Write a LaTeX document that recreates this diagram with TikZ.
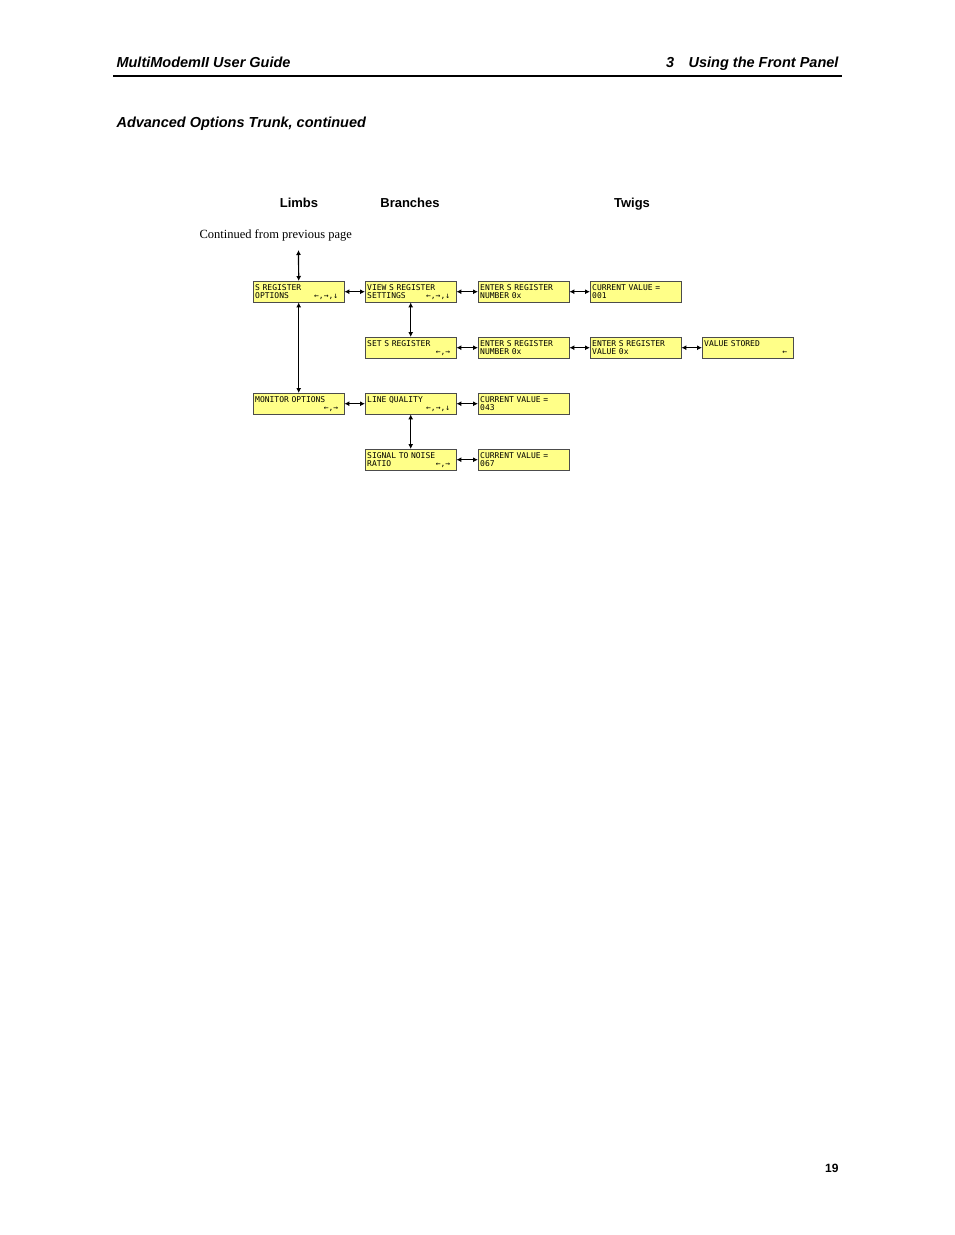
\documentclass[tikz,border=0pt]{standalone}
\usepackage{fontspec}
\setmainfont{Liberation Serif}
\setsansfont{Liberation Sans}
\newfontfamily\lcd{DejaVu Sans Mono}
\usetikzlibrary{arrows.meta}
\definecolor{lcdy}{HTML}{FFFF88}
\newcommand{\lrow}[2]{\makebox[86pt][l]{#1\hfill#2\hspace*{3pt}}}
\begin{document}
\begin{tikzpicture}[x=1pt,y=-1pt,
 lcdbox/.style={draw=black!70,fill=lcdy,anchor=north west,minimum width=91pt,minimum height=21pt,inner sep=1.5pt,align=left,font=\lcd\fontsize{8}{8}\selectfont,text width=87pt},
 dar/.style={{Latex[length=5pt,width=5pt]}-{Latex[length=5pt,width=5pt]},line width=1.2pt}]
\useasboundingbox (0,0) rectangle (954,1235);
\node[anchor=base west,font=\sffamily\bfseries\itshape\fontsize{14.5}{16}\selectfont] (h1) at (113,67) {MultiModemII User Guide};
\node[anchor=base east,font=\sffamily\bfseries\itshape\fontsize{14.5}{16}\selectfont] (h2) at (842,67) {3\quad Using the Front Panel};
\draw[line width=1.8pt] (113,76) -- (842,76);
\node[anchor=base west,font=\sffamily\bfseries\itshape\fontsize{14.5}{16}\selectfont] (t) at (113,127) {Advanced Options Trunk, continued};
\node[anchor=base,font=\sffamily\bfseries\fontsize{13}{15}\selectfont] (l) at (299,207) {Limbs};
\node[anchor=base,font=\sffamily\bfseries\fontsize{13}{15}\selectfont] (b) at (410,207) {Branches};
\node[anchor=base,font=\sffamily\bfseries\fontsize{13}{15}\selectfont] (tw) at (632,207) {Twigs};
\node[anchor=base west,font=\fontsize{12.5}{14}\selectfont] (c) at (196,238) {Continued from previous page};
\node[anchor=base east,font=\sffamily\bfseries\fontsize{12}{14}\selectfont] (p) at (842,1172) {19};

\node[lcdbox] (sr) at (253,281) {S REGISTER\\\lrow{OPTIONS}{←,→,↓}};
\node[lcdbox] (vs) at (365,281) {VIEW S REGISTER\\\lrow{SETTINGS}{←,→,↓}};
\node[lcdbox] (en1) at (478,281) {ENTER S REGISTER\\NUMBER 0x};
\node[lcdbox] (cv1) at (590,281) {CURRENT VALUE =\\001};
\node[lcdbox] (ss) at (365,337) {SET S REGISTER\\\lrow{}{←,→}};
\node[lcdbox] (en2) at (478,337) {ENTER S REGISTER\\NUMBER 0x};
\node[lcdbox] (ev) at (590,337) {ENTER S REGISTER\\VALUE 0x};
\node[lcdbox] (vst) at (702,337) {VALUE STORED\\\lrow{}{←}};
\node[lcdbox] (mo) at (253,393) {MONITOR OPTIONS\\\lrow{}{←,→}};
\node[lcdbox] (lq) at (365,393) {LINE QUALITY\\\lrow{}{←,→,↓}};
\node[lcdbox] (cv2) at (478,393) {CURRENT VALUE =\\043};
\node[lcdbox] (sn) at (365,449) {SIGNAL TO NOISE\\\lrow{RATIO}{←,→}};
\node[lcdbox] (cv3) at (478,449) {CURRENT VALUE =\\067};

\coordinate (top) at (298.5,250);
\draw[dar] (top) -- (sr.north);
\draw[dar] (sr.south) -- (mo.north);
\draw[dar] (vs.south) -- (ss.north);
\draw[dar] (lq.south) -- (sn.north);
\foreach \a/\b in {sr/vs,vs/en1,en1/cv1,ss/en2,en2/ev,ev/vst,mo/lq,lq/cv2,sn/cv3}
  \draw[dar] (\a.east) -- (\b.west);
\end{tikzpicture}
\end{document}
